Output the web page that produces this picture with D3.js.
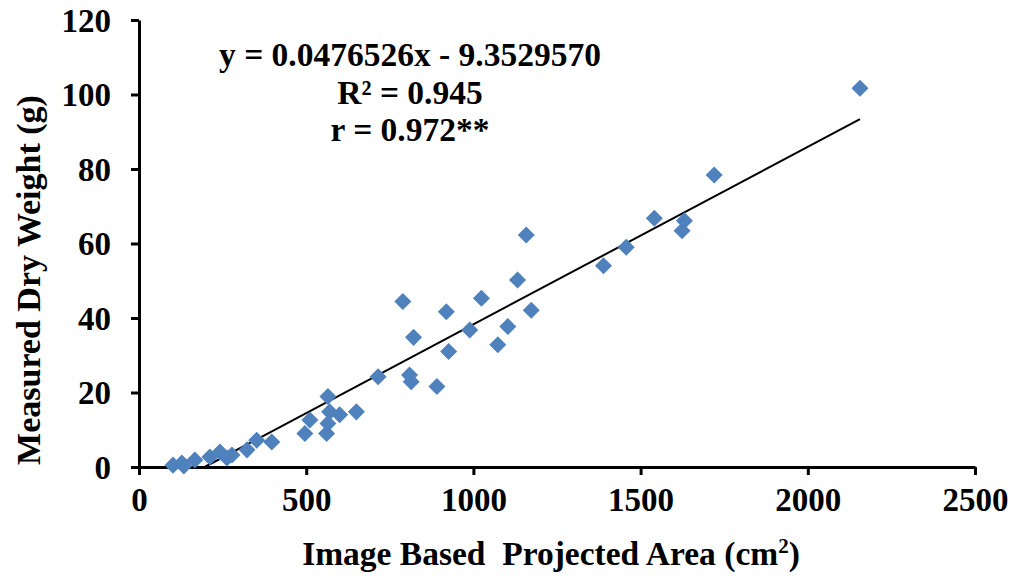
<!DOCTYPE html>
<html>
<head>
<meta charset="utf-8">
<script src="https://cdn.jsdelivr.net/npm/d3@7"></script>
<style>
  html, body { margin: 0; padding: 0; background: #fff; }
  svg text { font-family: "Liberation Serif", "Times New Roman", serif; font-weight: bold; fill: #000; }
</style>
</head>
<body>
<svg id="chart" width="1016" height="582"></svg>
<script>
// Projected leaf area from images vs. measured dry weight
const areaCm2 = [101.6, 128, 134, 167, 212, 242, 263, 278, 323, 352, 397,
  496, 511, 561, 565, 565, 570, 600, 650, 715, 809, 814, 789, 821, 891,
  919, 926, 989, 1024, 1073, 1103, 1132, 1158, 1173, 1389, 1457, 1541,
  1624, 1631, 1720, 2156];
const dryWeightG = [0.5, 1.1, 0.3, 1.9, 2.7, 4.0, 2.4, 3.2, 4.6, 7.2, 6.7,
  9.0, 12.6, 9.0, 11.7, 18.9, 14.8, 14.0, 14.8, 24.2, 24.7, 22.9, 44.4, 34.8, 21.6,
  41.7, 31.0, 36.8, 45.3, 32.8, 37.7, 50.2, 62.3, 42.1, 54.0, 59.0, 66.8,
  63.4, 66.1, 78.4, 101.7];

const xTicks = [0, 500, 1000, 1500, 2000, 2500];
const yTicks = [0, 20, 40, 60, 80, 100, 120];

// Linear fit reported on the chart
const slope = 0.0476526;
const intercept = -9.3529570;
const fitLabels = ["y = 0.0476526x - 9.3529570", "R\u00B2 = 0.945", "r = 0.972**"];

const svg = d3.select("#chart");
const x = d3.scaleLinear().domain([0, 2500]).range([139, 975]);
const y = d3.scaleLinear().domain([0, 120]).range([467, 20]);

// Axes
const xAxis = svg.append("g")
  .attr("transform", `translate(0,${y(0)})`)
  .call(d3.axisBottom(x).tickValues(xTicks).tickFormat(d3.format("d"))
    .tickSize(8).tickSizeOuter(0).tickPadding(13));
const yAxis = svg.append("g")
  .attr("transform", `translate(${x(0)},0)`)
  .call(d3.axisLeft(y).tickValues(yTicks).tickFormat(d3.format("d"))
    .tickSize(8).tickSizeOuter(0).tickPadding(20));

[xAxis, yAxis].forEach(g => {
  g.select(".domain").attr("stroke", "#000").attr("stroke-width", 3);
  g.selectAll(".tick line").attr("stroke", "#000").attr("stroke-width", 3);
  g.selectAll(".tick text")
    .attr("font-family", "Liberation Serif, Times New Roman, serif")
    .attr("font-weight", "bold")
    .attr("font-size", 33)
    .attr("fill", "#000");
});
yAxis.selectAll(".tick text").attr("dy", "0.34em");

// Fit line, drawn from the x-intercept to the largest area
const xStart = -intercept / slope;
const xEnd = d3.max(areaCm2);
svg.append("line")
  .attr("x1", x(xStart)).attr("y1", y(slope * xStart + intercept))
  .attr("x2", x(xEnd)).attr("y2", y(slope * xEnd + intercept))
  .attr("stroke", "#000").attr("stroke-width", 2);

// Diamond markers
const diamond = d3.symbol().type(d3.symbolSquare).size(145);
svg.append("g").selectAll("path")
  .data(areaCm2.map((a, i) => [a, dryWeightG[i]]))
  .join("path")
  .attr("d", diamond)
  .attr("transform", d => `translate(${x(d[0])},${y(d[1])}) rotate(45)`)
  .attr("fill", "#4F81BD");

// Equation block
svg.append("g").selectAll("text")
  .data(fitLabels)
  .join("text")
  .attr("x", 410)
  .attr("y", (d, i) => 66 + i * 37.5)
  .attr("text-anchor", "middle")
  .attr("font-size", 33.5)
  .text(d => d);

// Axis titles
const xTitle = svg.append("text")
  .attr("x", 551).attr("y", 565)
  .attr("text-anchor", "middle")
  .attr("font-size", 33.5);
xTitle.append("tspan").text("Image Based\u00A0 Projected Area (cm");
xTitle.append("tspan").attr("font-size", 21).attr("dy", -12).text("2");
xTitle.append("tspan").attr("dy", 12).text(")");

svg.append("text")
  .attr("transform", "translate(40,280) rotate(-90)")
  .attr("text-anchor", "middle")
  .attr("font-size", 34)
  .text("Measured Dry Weight (g)");
</script>
</body>
</html>
